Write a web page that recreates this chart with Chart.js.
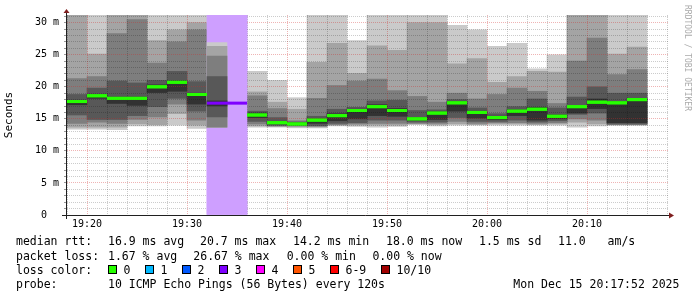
<!DOCTYPE html>
<html>
<head>
<meta charset="utf-8">
<script src="https://cdn.jsdelivr.net/npm/chart.js@4.4.1/dist/chart.umd.min.js"></script>
<style>
  html, body { margin: 0; padding: 0; background: #fff; }
  #wrap { position: relative; width: 697px; height: 297px; overflow: hidden; }
  #chart { position: absolute; left: 0; top: 0; }
  .txt { position: absolute; font: 11.5px "DejaVu Sans Mono", monospace; line-height: 14px; white-space: pre; color: #000; }
  .box { position: absolute; width: 7px; height: 7px; border: 1px solid #000; }
  #mark { position: absolute; left: 682px; top: 5px; font: 8px "DejaVu Sans Mono", monospace; line-height: 10px; color: #aaa; writing-mode: vertical-rl; }
</style>
</head>
<body>
<div id="wrap">
  <canvas id="chart" width="697" height="297"></canvas>
  <div id="legend"></div>
  <div id="mark">RRDTOOL / TOBI OETIKER</div>
</div>
<script>
// Data (2 minute steps, 10 pings each, sorted). 40 = above the top of the plot
const barTimes = ["19:18", "19:20", "19:22", "19:24", "19:26", "19:28", "19:30", "19:32", "19:34", "19:36",
  "19:38", "19:40", "19:42", "19:44", "19:46", "19:48", "19:50", "19:52", "19:54", "19:56",
  "19:58", "20:00", "20:02", "20:04", "20:06", "20:08", "20:10", "20:12", "20:14"];

const ping1 = [13.4, 13.4, 13.3, 13.9, 13.9, 14.0, 13.5, 13.7, null, 13.7, 13.7, 13.6, 13.6, 13.9, 13.8, 13.7, 13.8, 14.1, 13.9, 14.0, 14.0, 14.0, 14.0, 14.0, 14.0, 13.7, 13.9, 14.0, 14.0];
const ping2 = [13.7, 13.7, 13.7, 14.2, 14.1, 15.8, 14.0, 13.7, null, 13.9, 13.8, 13.75, 13.75, 14.0, 14.0, 14.0, 14.0, 14.2, 14.1, 14.2, 14.1, 14.2, 14.2, 14.1, 14.2, 14.5, 14.2, 14.05, 14.05];
const ping3 = [14.3, 14.5, 14.3, 14.9, 15.3, 17.3, 14.8, 13.7, null, 14.2, 13.9, 13.9, 13.85, 14.1, 14.2, 14.3, 14.3, 14.3, 14.3, 14.6, 14.3, 14.4, 14.4, 14.3, 14.4, 15.0, 14.8, 14.1, 14.1];
const ping4 = [15.6, 14.9, 14.9, 15.5, 16.9, 18.2, 16.2, 15.3, null, 14.6, 14.0, 14.0, 13.95, 14.3, 14.4, 14.8, 14.8, 14.5, 14.5, 15.2, 14.6, 14.6, 14.8, 14.5, 14.7, 15.7, 15.9, 14.2, 14.2];
const ping5 = [17.2, 18.2, 17.4, 17.1, 19.1, 19.3, 17.3, 17.0, null, 15.2, 14.2, 14.1, 14.3, 14.7, 15.0, 15.5, 15.4, 14.8, 14.9, 16.2, 15.1, 14.9, 15.5, 14.8, 15.0, 15.9, 16.6, 14.4, 14.4];
const ping6 = [17.9, 18.8, 18.4, 18.4, 20.3, 20.9, 19.0, 17.8, null, 15.9, 14.6, 14.35, 15.0, 15.8, 16.5, 17.2, 16.6, 15.2, 16.1, 17.7, 16.2, 15.4, 16.4, 16.8, 15.6, 17.1, 18.1, 17.7, 18.2];
const ping7 = [18.8, 19.8, 20.9, 20.6, 21.0, 22.4, 20.8, 21.6, null, 16.2, 15.2, 14.5, 15.4, 16.5, 16.8, 17.8, 17.9, 16.3, 16.4, 18.0, 16.7, 15.8, 16.9, 18.1, 16.7, 18.4, 20.0, 19.0, 19.0];
const ping8 = [21.3, 21.6, 28.3, 30.5, 23.7, 27.0, 28.9, 24.8, null, 18.6, 16.6, 14.7, 18.2, 20.2, 20.9, 21.2, 19.4, 18.5, 17.6, 19.0, 18.1, 18.8, 19.8, 19.3, 17.4, 24.0, 27.6, 21.9, 22.7];
const ping9 = [40, 25.1, 40, 40, 27.2, 28.9, 30.0, 26.3, null, 19.2, 17.6, 16.5, 23.8, 26.8, 22.1, 26.4, 25.7, 30.0, 30.0, 23.6, 24.4, 20.7, 21.6, 22.4, 22.3, 40, 40, 25.1, 26.2];
const ping10 = [40, 40, 40, 40, 40, 40, 40, 26.9, null, 22.4, 21.0, 18.3, 40, 40, 27.2, 40, 40, 40, 40, 29.6, 28.9, 26.3, 26.8, 22.8, 25.0, 40, 40, 40, 40];
const medianRtt = [17.7, 18.6, 18.2, 18.2, 20.0, 20.7, 18.8, 17.45, 17.45, 15.6, 14.4, 14.2, 14.8, 15.5, 16.3, 16.9, 16.3, 15.0, 15.9, 17.5, 16.0, 15.2, 16.2, 16.5, 15.4, 16.9, 17.6, 17.5, 18.0];
const lossCounts = [0, 0, 0, 0, 0, 0, 0, 3, 3, 0, 0, 0, 0, 0, 0, 0, 0, 0, 0, 0, 0, 0, 0, 0, 0, 0, 0, 0, 0];

const lossLabels = ["0", "1", "2", "3", "4", "5", "6-9", "10/10"];
const lossColors = ["#26ff00", "#00b8ff", "#0059ff", "#7e00ff", "#ff00ff", "#ff5500", "#ff0000", "#a10000"];
const rttStats = [16.9, 20.7, 14.2, 18.0, 1.5]; // avg max min now sd
const amPerSec = 11.0;
const lossStats = [1.67, 26.67, 0.0, 0.0]; // avg max min now
const probeText = "10 ICMP Echo Pings (56 Bytes) every 120s";
const stampText = "Mon Dec 15 20:17:52 2025";

// Axis range in minutes after 19:00
const X_MIN = 18, X_MAX = 78.1, Y_MAX = 31.2, BAR_MIN = 2;

const SMOKE = ["#cacaca", "#a4a4a4", "#7e7e7e", "#585858", "#323232"];
const GRID = "rgba(0, 0, 0, 0.2)";
const MGRID = "rgba(210, 40, 40, 0.35)";
const AXIS = "#202020";
const ARROW = "#7f1f1f";
const FONT = '"DejaVu Sans Mono", monospace';

const toMin = (t) => { const [h, m] = t.split(":").map(Number); return (h - 19) * 60 + m; };
const fmtMin = (v) => { const h = 19 + Math.floor(v / 60), m = v % 60; return h + ":" + String(m).padStart(2, "0"); };
const lossIndex = (n) => (n <= 5 ? n : n < 10 ? 6 : 7);
const lossBg = (hex) => {
  const a = 0x60 / 255;
  const c = [1, 3, 5].map((i) => parseInt(hex.slice(i, i + 2), 16));
  return "rgb(" + c.map((v) => Math.round(255 * (1 - a) + v * a)).join(",") + ")";
};

const pings = [ping1, ping2, ping3, ping4, ping5, ping6, ping7, ping8, ping9, ping10];
const centers = barTimes.map((t) => toMin(t) + BAR_MIN / 2);

// smoke layer k spans ping(k+1) .. ping(10-k)
const smokeSets = SMOKE.map((color, k) => ({
  type: "bar",
  data: centers.map((x, i) => ({ x, y: pings[k][i] == null ? null : [pings[k][i], pings[9 - k][i]] })),
  backgroundColor: color,
  order: 8 - k,
}));

const lossSet = {
  type: "bar",
  data: centers.map((x, i) => ({ x, y: lossCounts[i] > 0 ? [0, Y_MAX] : null })),
  backgroundColor: centers.map((x, i) => lossBg(lossColors[lossIndex(lossCounts[i])])),
  order: 10,
};

const medianPoints = [];
barTimes.forEach((t, i) => {
  const s = toMin(t);
  medianPoints.push({ x: s, y: medianRtt[i] }, { x: s + BAR_MIN, y: medianRtt[i] }, { x: s + BAR_MIN, y: null });
});
const medianSet = {
  type: "line",
  data: medianPoints,
  borderWidth: 3,
  borderCapStyle: "butt",
  pointRadius: 0,
  fill: false,
  spanGaps: false,
  borderColor: lossColors[0],
  segment: { borderColor: (c) => lossColors[lossIndex(lossCounts[Math.floor(c.p0DataIndex / 3)])] },
  order: 0,
};

const datasets = [...smokeSets, medianSet, lossSet];
const MEDIAN_DS = 5, LOSS_DS = 6;

// loss columns hide the grid; smoke and median of those columns go back on top
const rrdOverlay = {
  id: "rrdOverlay",
  afterDraw(chart) {
    const { ctx, chartArea: a } = chart;
    ctx.save();
    ctx.beginPath();
    ctx.rect(a.left, a.top, a.right - a.left, a.bottom - a.top);
    ctx.clip();
    const lossEls = chart.getDatasetMeta(LOSS_DS).data;
    lossCounts.forEach((n, i) => { if (n > 0) lossEls[i].draw(ctx); });
    for (let k = 0; k < SMOKE.length; k++) {
      const els = chart.getDatasetMeta(k).data;
      lossCounts.forEach((n, i) => { if (n > 0 && pings[k][i] != null) els[i].draw(ctx); });
    }
    chart.getDatasetMeta(MEDIAN_DS).controller.draw();
    ctx.restore();

    ctx.save();
    ctx.strokeStyle = AXIS;
    ctx.lineWidth = 1;
    ctx.beginPath();
    ctx.moveTo(a.left - 5, a.bottom + 0.5);
    ctx.lineTo(a.right + 1, a.bottom + 0.5);
    ctx.moveTo(a.left - 0.5, a.bottom + 4);
    ctx.lineTo(a.left - 0.5, a.top - 2);
    ctx.stroke();
    ctx.fillStyle = ARROW;
    ctx.beginPath();
    ctx.moveTo(a.right + 1, a.bottom - 2.5);
    ctx.lineTo(a.right + 6, a.bottom + 0.5);
    ctx.lineTo(a.right + 1, a.bottom + 3.5);
    ctx.closePath();
    ctx.fill();
    ctx.beginPath();
    ctx.moveTo(a.left - 3.5, a.top - 2);
    ctx.lineTo(a.left - 0.5, a.top - 6);
    ctx.lineTo(a.left + 2.5, a.top - 2);
    ctx.closePath();
    ctx.fill();
    ctx.restore();
  },
};

Chart.defaults.font.family = FONT;
Chart.defaults.font.size = 10;
Chart.defaults.color = "#000";

new Chart(document.getElementById("chart"), {
  type: "bar",
  data: { datasets },
  options: {
    responsive: false,
    animation: false,
    events: [],
    layout: { padding: { left: 0, top: 15, right: 29, bottom: 0 } },
    datasets: { bar: { grouped: false, barPercentage: 1, categoryPercentage: 1, borderWidth: 0 } },
    plugins: { legend: { display: false }, tooltip: { enabled: false } },
    scales: {
      x: {
        type: "linear",
        min: X_MIN,
        max: X_MAX,
        offset: false,
        afterFit: (s) => { s.height = 82; },
        grid: {
          z: 1,
          offset: false,
          drawTicks: false,
          color: (c) => (c.tick && c.tick.value % 10 === 0 ? MGRID : GRID),
        },
        border: { display: false, dash: [1, 1] },
        ticks: {
          stepSize: BAR_MIN,
          autoSkip: false,
          maxRotation: 0,
          includeBounds: false,
          padding: 3,
          callback: (v) => (v % 10 === 0 ? fmtMin(v) : ""),
        },
      },
      y: {
        min: 0,
        max: Y_MAX,
        afterFit: (s) => { s.width = 67; },
        grid: {
          z: 1,
          tickLength: 3,
          tickColor: "#999",
          color: (c) => (c.tick && c.tick.value % 5 === 0 ? MGRID : GRID),
        },
        border: { display: false, dash: [1, 1] },
        ticks: {
          stepSize: 1,
          autoSkip: false,
          includeBounds: false,
          padding: 5,
          callback: (v) => (v % 5 ? "" : v === 0 ? "0  " : v + " m"),
        },
        title: { display: true, text: "Seconds", font: { size: 11 }, padding: { top: 3, bottom: 0 } },
      },
    },
  },
  plugins: [rrdOverlay],
});

// Legend text under the graph
const legend = document.getElementById("legend");
const addText = (x, y, s) => {
  const el = document.createElement("div");
  el.className = "txt";
  el.style.left = x + "px";
  el.style.top = y - 7 + "px";
  el.textContent = s;
  legend.appendChild(el);
};
const rowY = [241, 255.5, 269.5, 283.7];

const rttNames = ["avg", "max", "min", "now"];
addText(16, rowY[0], "median rtt:");
[108, 200, 293, 386].forEach((x, i) => addText(x, rowY[0], rttStats[i].toFixed(1) + " ms " + rttNames[i]));
addText(479, rowY[0], rttStats[4].toFixed(1) + " ms sd");
addText(558, rowY[0], amPerSec.toFixed(1));
addText(607.6, rowY[0], "am/s");

addText(16, rowY[1], "packet loss:");
[108, 193.3, 286.7, 372.4].forEach((x, i) => addText(x, rowY[1], lossStats[i].toFixed(2) + " % " + rttNames[i]));

addText(16, rowY[2], "loss color:");
let bx = 108;
lossLabels.forEach((label, i) => {
  const b = document.createElement("div");
  b.className = "box";
  b.style.left = bx + "px";
  b.style.top = rowY[2] - 4.5 + "px";
  b.style.background = lossColors[i];
  legend.appendChild(b);
  addText(bx + 15.5, rowY[2], label);
  bx += 37 + 7 * (label.length - 1);
});

addText(16, rowY[3], "probe:");
addText(108, rowY[3], probeText);
addText(513.3, rowY[3], stampText);
</script>
</body>
</html>
